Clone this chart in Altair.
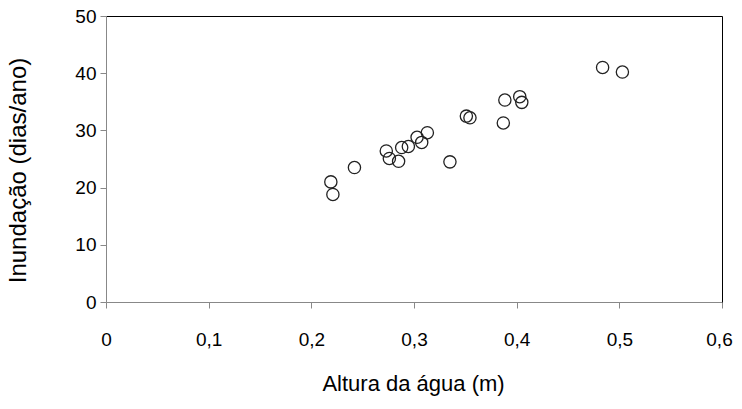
import altair as alt
import pandas as pd

altura = [0.219, 0.221, 0.242, 0.273, 0.276, 0.285, 0.288, 0.2945, 0.303, 0.3075,
          0.313, 0.335, 0.351, 0.3545, 0.387, 0.3885, 0.403, 0.405, 0.4837, 0.503]
inundacao = [21.0, 18.8, 23.5, 26.4, 25.1, 24.6, 27.0, 27.2, 28.8, 27.9,
             29.6, 24.5, 32.5, 32.2, 31.3, 35.3, 35.9, 34.9, 41.0, 40.2]
x_ticks = [0, 0.1, 0.2, 0.3, 0.4, 0.5, 0.6]
y_ticks = [0, 10, 20, 30, 40, 50]

df = pd.DataFrame({"altura": altura, "inundacao": inundacao})

FONT = "Liberation Sans"
W, H = 616, 286

points = alt.Chart(df).mark_point(
    shape="circle", filled=False, size=150, stroke="#222222", strokeWidth=1.3, opacity=1
).encode(
    x=alt.X("altura:Q", scale=alt.Scale(domain=[0, 0.6], nice=False, zero=True),
            axis=alt.Axis(title="Altura da água (m)", values=x_ticks,
                          labelExpr="replace(format(datum.value, '.1~f'), '.', ',')",
                          grid=False, tickSize=6, labelPadding=22, labelFontSize=19,
                          labelFlush=False, labelOverlap=False,
                          labelOffset={"condition": {"test": "datum.value >= 0.6", "value": -3}, "value": 0},
                          titleFontSize=22, titleFontWeight="normal",
                          titleX=307, titleY=81, titleBaseline="middle")),
    y=alt.Y("inundacao:Q", scale=alt.Scale(domain=[0, 50], nice=False),
            axis=alt.Axis(title="Inundação (dias/ano)", values=y_ticks,
                          grid=False, tickSize=6, labelPadding=4, labelFontSize=19,
                          labelFlush=False, labelOverlap=False,
                          titleFontSize=24, titleFontWeight="normal",
                          titleX=-88, titleY=154, titleBaseline="middle")),
)

frame = alt.Chart(df).mark_point(opacity=0).encode(
    x=alt.X("altura:Q", scale=alt.Scale(domain=[0, 0.6], nice=False),
            axis=alt.Axis(orient="top", title=None, labels=False, ticks=False, grid=False,
                          domainColor="black")),
    y=alt.Y("inundacao:Q", scale=alt.Scale(domain=[0, 50], nice=False),
            axis=alt.Axis(orient="right", title=None, labels=False, ticks=False, grid=False,
                          domainColor="black")),
)

chart = alt.layer(points, frame).resolve_axis(x="independent", y="independent").properties(
    width=W, height=H,
    autosize=alt.AutoSizeParams(type="none"),
    padding={"left": 98, "top": 8, "right": 12, "bottom": 99},
).configure_view(
    stroke=None
).configure_axis(
    domainColor="black", tickColor="black", labelColor="black", titleColor="black",
    labelFont=FONT, titleFont=FONT, domainWidth=1, tickWidth=1
).configure(background="white")

chart.save("out.html", embed_options={"renderer": "svg", "actions": False})
